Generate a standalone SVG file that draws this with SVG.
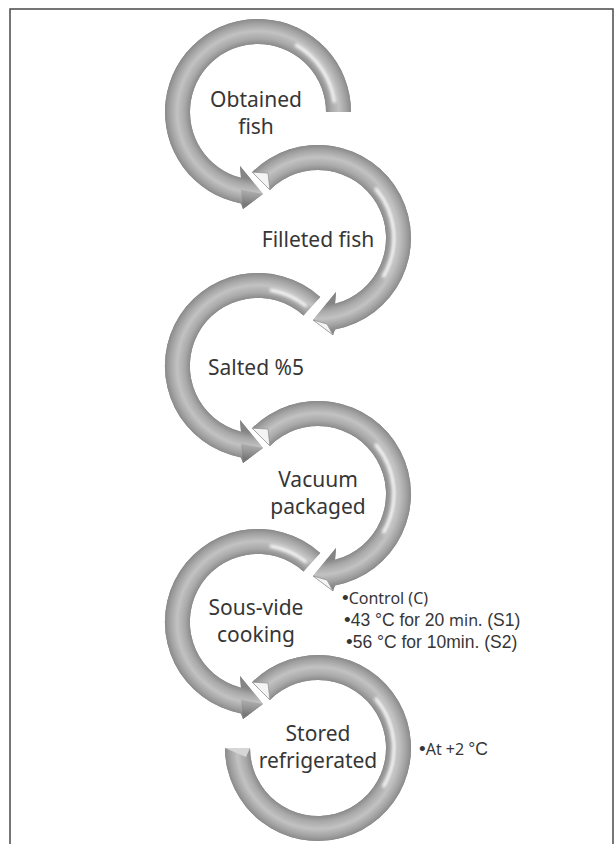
<svg xmlns="http://www.w3.org/2000/svg" width="616" height="844" viewBox="0 0 616 844">
<style>
.lbl{font-family:"Noto Sans","Open Sans",sans-serif;font-size:21px;fill:#363636;text-anchor:middle}
.note{font-family:"Liberation Sans",Arial,sans-serif;font-size:17.5px;fill:#363636}
.cal{font-family:"Noto Sans","Open Sans",sans-serif;font-size:16px}
.b{font-family:"Liberation Sans",Arial,sans-serif;font-size:19px}
.shade{fill:url(#dark)}
.hl{fill:none;stroke:#ffffff;stroke-width:3.5;stroke-linecap:round;opacity:0.9;filter:url(#soft)}
.face{fill:#f4f4f4;stroke:#8c8c8c;stroke-width:0.7}
.low{fill:#000;opacity:0.13}
</style>
<defs>
<radialGradient id="tube" gradientUnits="userSpaceOnUse" r="93">
<stop offset="0.72" stop-color="#858585"/>
<stop offset="0.79" stop-color="#a9a9a9"/>
<stop offset="0.87" stop-color="#c2c2c2"/>
<stop offset="0.95" stop-color="#a2a2a2"/>
<stop offset="1" stop-color="#8a8a8a"/>
</radialGradient>
<radialGradient id="g1" href="#tube" cx="258" cy="112" r="93"/>
<radialGradient id="g2" href="#tube" cx="318" cy="238" r="93"/>
<radialGradient id="g3" href="#tube" cx="258" cy="366" r="93"/>
<radialGradient id="g4" href="#tube" cx="318" cy="494" r="93"/>
<radialGradient id="g5" href="#tube" cx="258" cy="622" r="93"/>
<radialGradient id="g6" href="#tube" cx="318" cy="748" r="93"/>
<linearGradient id="dark" x1="0" y1="0" x2="0" y2="1">
<stop offset="0" stop-color="#000" stop-opacity="0"/>
<stop offset="0.5" stop-color="#000" stop-opacity="0.05"/>
<stop offset="1" stop-color="#000" stop-opacity="0.22"/>
</linearGradient>
<filter id="soft" x="-20%" y="-20%" width="140%" height="140%"><feGaussianBlur stdDeviation="1.4"/></filter>
</defs>
<rect x="10" y="9" width="603" height="850" fill="#fff" stroke="#4a4a4a" stroke-width="1.5"/>

<g id="step1">
<path id="a1" fill="url(#g1)" d="M351 112 A93 93 0 1 0 241 203.4 L243 209 L263 194 L240 166 L241 177.8 A68 68 0 1 1 326 112 Z"/>
<use href="#a1" class="shade"/>
<polygon class="low" points="263,194 243,209 241,190"/>
<path class="hl" d="M296.5 45.3 A77 77 0 0 1 334.3 101.3"/>
<text class="lbl" x="256" y="107">Obtained<tspan x="256" dy="27">fish</tspan></text>
</g>

<g id="step2">
<path id="a2" fill="url(#g2)" d="M252.2 172.2 A93 93 0 1 1 335 329.4 L333 335 L313 320 L336 292 L335 303.8 A68 68 0 1 0 269.9 189.9 Z"/>
<use href="#a2" class="shade"/>
<polygon class="face" points="313,320 333,335 327,324"/>
<polygon class="face" points="252.2,172.2 268,173 269.9,189.9"/>
<path class="hl" d="M376.2 189.1 A76 76 0 0 1 383.8 276"/>
<text class="lbl" x="318" y="247">Filleted fish</text>
</g>

<g id="step3">
<path id="a3" fill="url(#g3)" d="M320.2 296.9 A93 93 0 1 0 241 457.4 L243 463 L263 448 L240 420 L241 431.8 A68 68 0 1 1 303.5 315.5 Z"/>
<use href="#a3" class="shade"/>
<polygon class="low" points="263,448 243,463 241,444"/>
<path class="hl" d="M271.4 290.2 A77 77 0 0 1 305.4 305.3"/>
<text class="lbl" x="256" y="375">Salted %5</text>
</g>

<g id="step4">
<path id="a4" fill="url(#g4)" d="M252.2 428.2 A93 93 0 1 1 335 585.4 L333 591 L313 576 L336 548 L335 559.8 A68 68 0 1 0 269.9 445.9 Z"/>
<use href="#a4" class="shade"/>
<polygon class="face" points="313,576 333,591 327,580"/>
<polygon class="face" points="252.2,428.2 268,429 269.9,445.9"/>
<path class="hl" d="M376.2 445.1 A76 76 0 0 1 383.8 532"/>
<text class="lbl" x="318" y="487">Vacuum<tspan x="318" dy="27">packaged</tspan></text>
</g>

<g id="step5">
<path id="a5" fill="url(#g5)" d="M320.2 552.9 A93 93 0 1 0 241 713.4 L243 719 L263 704 L240 676 L241 687.8 A68 68 0 1 1 303.5 571.5 Z"/>
<use href="#a5" class="shade"/>
<polygon class="low" points="263,704 243,719 241,700"/>
<path class="hl" d="M271.4 546.2 A77 77 0 0 1 305.4 561.3"/>
<text class="lbl" x="256" y="615">Sous-vide<tspan x="256" dy="27">cooking</tspan></text>
</g>

<g id="step6">
<path id="a6" fill="url(#g6)" d="M252.2 682.2 A93 93 0 1 1 225 748 L250 748 A68 68 0 1 0 269.9 699.9 Z"/>
<use href="#a6" class="shade"/>
<polygon class="face" points="252.2,682.2 268,683 269.9,699.9"/>
<polygon points="225,748 250,748 246,757" fill="#d6d6d6"/>
<path class="hl" d="M376.2 699.1 A76 76 0 0 1 383.8 786"/>
<text class="lbl" x="318" y="741">Stored<tspan x="318" dy="27">refrigerated</tspan></text>
</g>

<g id="cooking-notes">
<text class="note" x="342" y="604"><tspan class="b">•</tspan><tspan class="cal">Control (C)</tspan></text>
<text class="note" x="344" y="626"><tspan class="b">•</tspan>43 °C for 20 <tspan class="cal">min.</tspan> (S1)</text>
<text class="note" x="346" y="648"><tspan class="b">•</tspan>56 °C for 10min. (S2)</text>
</g>

<g id="storage-note">
<text class="note" x="419" y="755"><tspan class="b">•</tspan><tspan class="cal">At +2 </tspan>°C</text>
</g>
</svg>
